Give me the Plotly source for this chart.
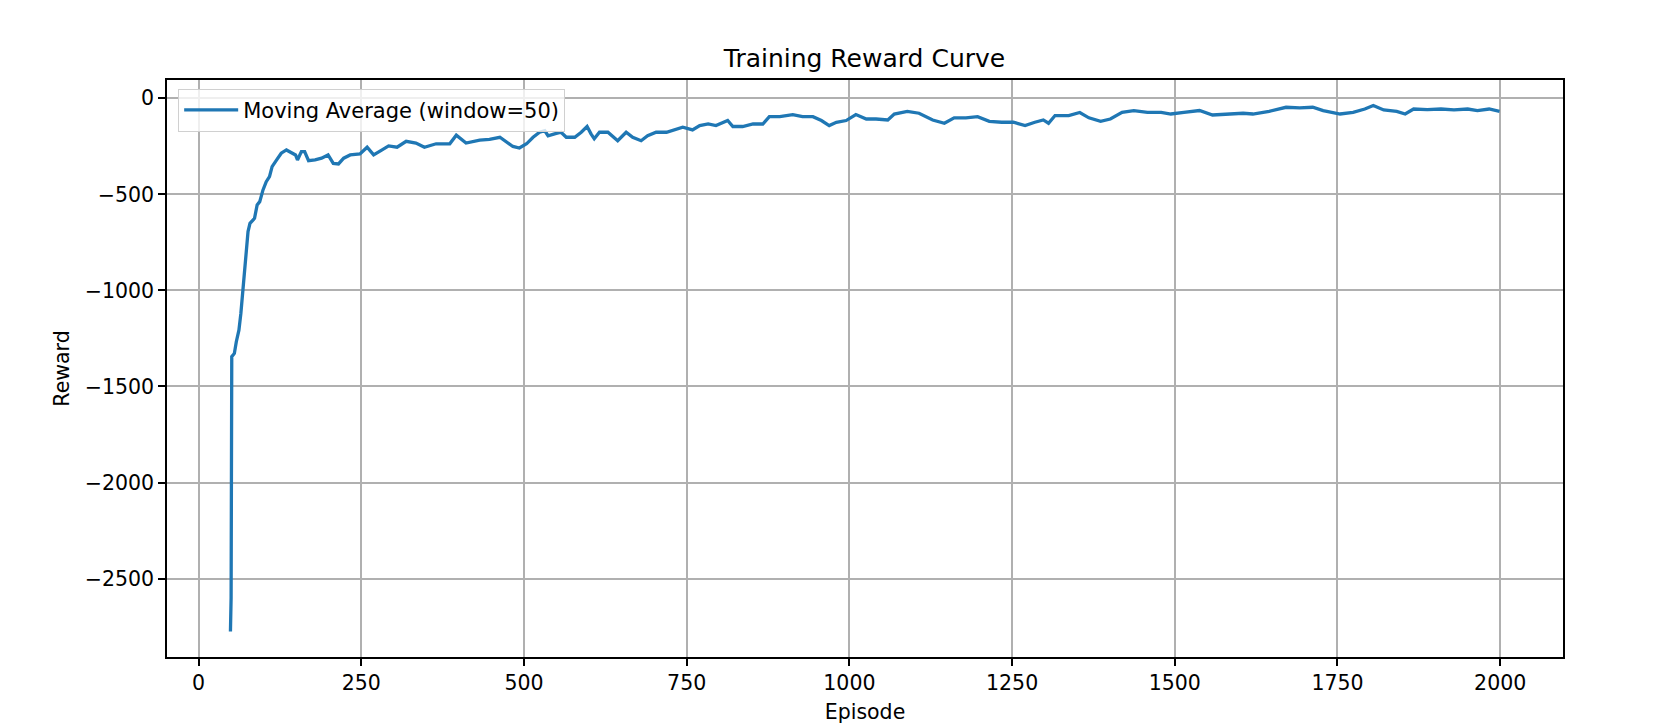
import plotly.graph_objects as go

# moving average of episode reward (window=50)
episodes = [49, 50, 51, 55, 58, 62, 65, 68, 70, 73, 76, 79, 86, 90, 94, 99, 104, 109, 113,
            120, 127, 135, 143, 149, 152, 158, 163, 169, 179, 189, 199, 207, 215, 223, 233,
            248, 259, 269, 282, 292, 305, 319, 334, 347, 365, 386, 396, 411, 432, 447, 463,
            473, 483, 493, 504, 514, 524, 532, 537, 547, 557, 565, 578, 588, 597, 603, 608,
            616, 629, 644, 657, 667, 680, 690, 703, 719, 729, 744, 759, 770, 783, 795, 813,
            821, 836, 852, 867, 877, 893, 913, 928, 944, 957, 969, 980, 995, 1010, 1026, 1041,
            1059, 1069, 1077, 1089, 1107, 1128, 1146, 1161, 1179, 1197, 1215, 1234, 1252, 1270,
            1285, 1298, 1306, 1316, 1337, 1354, 1368, 1386, 1401, 1419, 1437, 1458, 1479, 1494,
            1514, 1538, 1558, 1581, 1605, 1620, 1645, 1671, 1692, 1712, 1728, 1754, 1774, 1792,
            1805, 1821, 1841, 1854, 1867, 1888, 1909, 1929, 1950, 1965, 1983, 1999]
moving_avg = [-2775, -2600, -1345, -1328, -1267, -1207, -1120, -1016, -911, -807, -694, -651,
              -625, -555, -538, -477, -434, -408, -356, -321, -286, -269, -283, -295, -321,
              -278, -278, -325, -321, -312, -295, -339, -342, -312, -295, -290, -255, -295,
              -269, -248, -255, -224, -233, -255, -237, -237, -192, -233, -218, -214, -203,
              -229, -251, -259, -237, -203, -177, -169, -195, -185, -177, -203, -203, -177,
              -147, -185, -211, -177, -177, -221, -177, -203, -221, -195, -177, -177, -165,
              -151, -165, -142, -134, -142, -116, -147, -147, -134, -134, -96, -96, -85, -96,
              -96, -116, -142, -125, -116, -85, -108, -108, -113, -82, -76, -68, -78, -113,
              -130, -102, -102, -96, -120, -125, -125, -142, -125, -113, -130, -90, -90, -74,
              -102, -120, -108, -73, -64, -73, -73, -82, -73, -64, -87, -82, -78, -82, -68,
              -47, -50, -47, -64, -82, -73, -56, -38, -61, -68, -82, -56, -59, -56, -61, -56,
              -64, -56, -68]

x_ticks = [0, 250, 500, 750, 1000, 1250, 1500, 1750, 2000]
y_ticks = [0, -500, -1000, -1500, -2000, -2500]

font = "DejaVu Sans"
fsize = 20.5

fig = go.Figure()
fig.add_trace(go.Scatter(x=episodes, y=moving_avg, mode="lines",
                         name="Moving Average (window=50)",
                         line=dict(color="#1f77b4", width=3.3)))

axis_style = dict(showgrid=True, gridcolor="#b0b0b0", gridwidth=1.6,
                  showline=True, linecolor="black", linewidth=1.6, mirror=True,
                  ticks="outside", ticklen=7, tickwidth=1.6, tickcolor="black",
                  zeroline=False, automargin=False,
                  tickfont=dict(family=font, size=fsize, color="black"))

fig.update_xaxes(range=[-48.5, 2096.5], tickvals=x_ticks,
                 title=dict(text="Episode", standoff=10,
                            font=dict(family=font, size=fsize, color="black")),
                 **axis_style)
fig.update_yaxes(range=[-2908, 95], tickvals=y_ticks,
                 title=dict(text="Reward", standoff=10,
                            font=dict(family=font, size=fsize, color="black")),
                 **axis_style)

fig.update_layout(
    width=1677, height=725,
    plot_bgcolor="white", paper_bgcolor="white",
    margin=dict(l=167, r=114, t=80, b=68),
    title=dict(text="Training Reward Curve", x=0.5155, xanchor="center",
               y=0.92, yanchor="middle",
               font=dict(family=font, size=25, color="black")),
    legend=dict(x=0.008, y=0.985, xanchor="left", yanchor="top",
                bgcolor="rgba(255,255,255,0.8)", bordercolor="#d0d0d0", borderwidth=1,
                itemwidth=54,
                font=dict(family=font, size=21, color="black")),
    showlegend=True,
)

# drop the default 8px page margin so the figure fills the window exactly
fig.write_html("out.html", config={"displayModeBar": False},
               post_script="document.body.style.margin='0';")
